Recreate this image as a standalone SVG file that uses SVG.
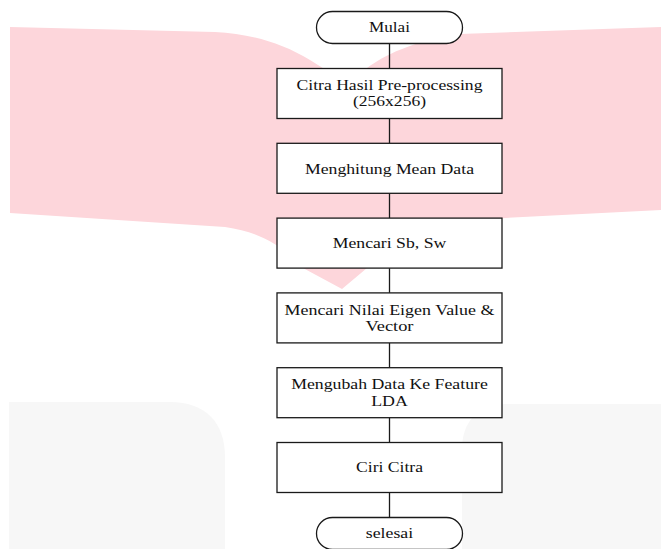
<svg xmlns="http://www.w3.org/2000/svg" width="661" height="549" viewBox="0 0 661 549">
  <style>
    .wm-pink { fill: #FDD6DB; stroke: none; }
    .wm-gray { fill: #F7F7F7; stroke: none; }
    .node { fill: #FFFFFF; stroke: #1A1A1A; stroke-width: 1.3; }
    .conn { stroke: #1A1A1A; stroke-width: 1.3; fill: none; }
    .label { font-family: "Liberation Serif", "Times New Roman", serif; font-size: 15px; fill: #111111; text-anchor: middle; }
  </style>

  <g id="watermark">
    <path class="wm-pink" d="M10,27 L215,32 C250,34 280,42 310,60 L342,80 L367,68 C385,55 410,42 460,34 L661,27 L661,210 L505,218 C440,228 395,245 367,268 L342,289 L303,268 C285,248 262,232 225,227 L10,213 Z"/>
    <path class="wm-gray" d="M9,549 L9,402 L170,402 C205,402 225,422 225,457 L225,549 Z"/>
    <path class="wm-gray" d="M661,404 L506,404 C478,404 462,422 462,449 L462,549 L661,549 Z"/>
  </g>

  <g id="connectors">
    <line class="conn" x1="389.5" y1="43.5" x2="389.5" y2="68.5"/>
    <line class="conn" x1="389.5" y1="118.5" x2="389.5" y2="143.3"/>
    <line class="conn" x1="389.5" y1="193.3" x2="389.5" y2="218.1"/>
    <line class="conn" x1="389.5" y1="268.1" x2="389.5" y2="292.9"/>
    <line class="conn" x1="389.5" y1="342.9" x2="389.5" y2="367.7"/>
    <line class="conn" x1="389.5" y1="417.7" x2="389.5" y2="442.5"/>
    <line class="conn" x1="389.5" y1="492.5" x2="389.5" y2="517.5"/>
  </g>

  <g id="node-mulai">
    <rect class="node" x="316.5" y="11.5" width="146" height="32" rx="16" ry="16"/>
    <text class="label" x="389.5" y="32.3" textLength="41" lengthAdjust="spacingAndGlyphs">Mulai</text>
  </g>

  <g id="node-citra-hasil">
    <rect class="node" x="277" y="68.5" width="225" height="50"/>
    <text class="label" x="389.5" y="90" textLength="186" lengthAdjust="spacingAndGlyphs">Citra Hasil Pre-processing</text>
    <text class="label" x="389.5" y="106" textLength="73" lengthAdjust="spacingAndGlyphs">(256x256)</text>
  </g>

  <g id="node-mean">
    <rect class="node" x="277" y="143.3" width="225" height="50"/>
    <text class="label" x="389.5" y="173.5" textLength="169" lengthAdjust="spacingAndGlyphs">Menghitung Mean Data</text>
  </g>

  <g id="node-sbsw">
    <rect class="node" x="277" y="218.1" width="225" height="50"/>
    <text class="label" x="389.5" y="248" textLength="113.5" lengthAdjust="spacingAndGlyphs">Mencari Sb, Sw</text>
  </g>

  <g id="node-eigen">
    <rect class="node" x="277" y="292.9" width="225" height="50"/>
    <text class="label" x="389.5" y="314.5" textLength="210" lengthAdjust="spacingAndGlyphs">Mencari Nilai Eigen Value &amp;</text>
    <text class="label" x="389.5" y="330.8" textLength="48" lengthAdjust="spacingAndGlyphs">Vector</text>
  </g>

  <g id="node-feature">
    <rect class="node" x="277" y="367.7" width="225" height="50"/>
    <text class="label" x="389.5" y="389.3" textLength="196.7" lengthAdjust="spacingAndGlyphs">Mengubah Data Ke Feature</text>
    <text class="label" x="389.5" y="405.6" textLength="36.7" lengthAdjust="spacingAndGlyphs">LDA</text>
  </g>

  <g id="node-ciri">
    <rect class="node" x="277" y="442.5" width="225" height="50"/>
    <text class="label" x="389.5" y="472" textLength="67" lengthAdjust="spacingAndGlyphs">Ciri Citra</text>
  </g>

  <g id="node-selesai">
    <rect class="node" x="316.5" y="517.5" width="146" height="32" rx="16" ry="16"/>
    <text class="label" x="389.5" y="537.5" textLength="47.3" lengthAdjust="spacingAndGlyphs">selesai</text>
  </g>
</svg>
